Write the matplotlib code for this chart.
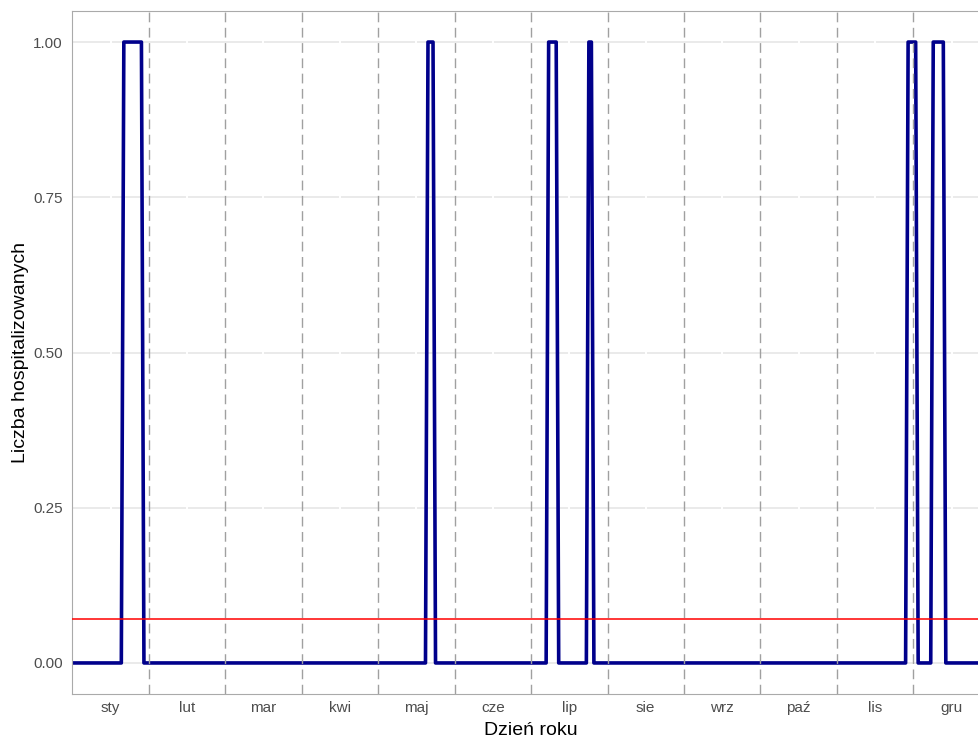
import numpy as np
import matplotlib
matplotlib.use("Agg")
import matplotlib.pyplot as plt

plt.rcParams['font.family'] = ['Liberation Sans', 'DejaVu Sans']

# dni roku (1-365) z jedną hospitalizacją
dni_hosp = [21, 22, 23, 24, 25, 26, 27, 28,
            142, 143, 144,
            190, 191, 192, 193,
            206, 207,
            333, 334, 335, 336,
            343, 344, 345, 346, 347]
miesiace = ['sty', 'lut', 'mar', 'kwi', 'maj', 'cze',
            'lip', 'sie', 'wrz', 'paź', 'lis', 'gru']
y_ticks = [0.0, 0.25, 0.5, 0.75, 1.0]

dzien = np.arange(1, 366)
liczba = np.zeros(365)
liczba[np.array(dni_hosp) - 1] = 1
srednia = liczba.mean()

dl_mies = 365 / 12
granice = [0.5 + k * dl_mies for k in range(1, 12)]
srodki = [0.5 + (k + 0.5) * dl_mies for k in range(12)]

fig = plt.figure(figsize=(9.79, 7.38), dpi=100)
ax = fig.add_axes([72.3 / 979, 44 / 738, 1 - 72.3 / 979, 683 / 738])

for y in y_ticks:
    ax.axhline(y, color='#E6E6E6', lw=1.2, zorder=0)
for x in srodki:
    ax.axvline(x, color='white', lw=1.4, zorder=0.5)

ax.plot(dzien, liczba, color='#00008B', lw=2.6, solid_joinstyle='round', zorder=2)
for x in granice:
    ax.axvline(x, color='#A0A0A0', lw=1.0, ls=(0, (7, 4)), zorder=3)
ax.axhline(srednia, color='red', lw=1.1, zorder=4)

ax.set_xlim(0.5, 361.2)
ax.set_ylim(-0.05, 1.05)
ax.set_xticks(srodki)
ax.set_xticklabels(miesiace)
ax.set_yticks(y_ticks)
ax.set_yticklabels(['0.00', '0.25', '0.50', '0.75', '1.00'])
ax.tick_params(length=0, labelsize=11, labelcolor='#4D4D4D')
ax.tick_params(axis='y', pad=7)
ax.tick_params(axis='x', pad=5)

for s in ax.spines.values():
    s.set_color('#AAAAAA')
    s.set_linewidth(0.8)

ax.set_xlabel('Dzień roku', fontsize=14)
ax.xaxis.set_label_coords(0.506, -0.041)
ax.set_ylabel('Liczba hospitalizowanych', fontsize=14, labelpad=3)

fig.savefig('out.png', dpi=100)
